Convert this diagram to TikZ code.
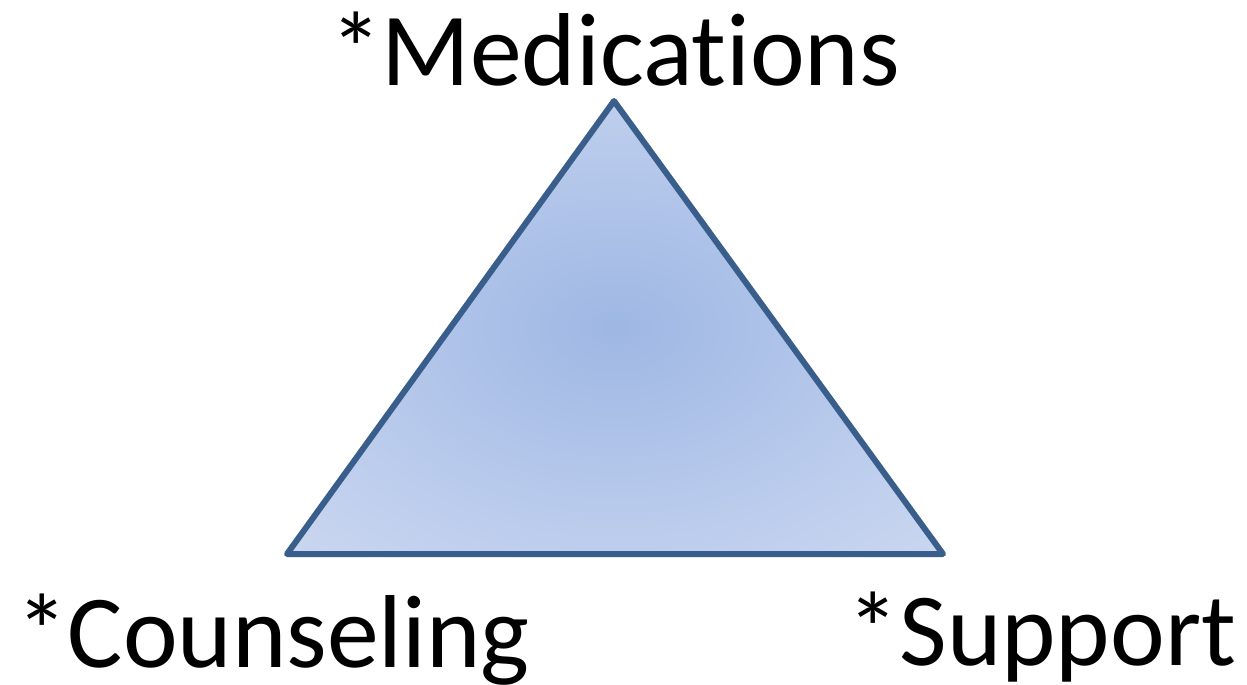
\documentclass[tikz,border=0pt]{standalone}
\usepackage{fontspec}
\setmainfont{Carlito}[Ligatures=NoCommon]
\usepackage{tikz}
\usetikzlibrary{calc}
\usetikzlibrary{positioning}
\definecolor{edgeblue}{RGB}{58,94,139}
\definecolor{midblue}{RGB}{158,183,227}
\definecolor{paleblue}{RGB}{184,202,236}
\definecolor{softblue}{RGB}{210,220,241}
\definecolor{lightblue}{RGB}{229,234,245}
\pgfdeclareradialshading{triglow}{\pgfpoint{0bp}{0bp}}{color(0bp)=(midblue); color(20bp)=(paleblue); color(42bp)=(softblue); color(66bp)=(lightblue); color(75bp)=(lightblue)}
\tikzset{label/.style={font=\fontsize{59}{64}\selectfont,inner sep=0pt,anchor=base}}

\begin{document}
\begin{tikzpicture}[x=0.02cm,y=-0.02cm]
	\useasboundingbox (0,0) rectangle (1247,685);
	
	\coordinate [] (Top) at (614,101);
	\coordinate [] (Left) at (287,554);
	\coordinate [] (Right) at (943,554);
	
	\draw[line width=0.12cm,edgeblue,line join=round,shading=triglow] (Top)--(Left)--(Right)--cycle;
	
	\node [label] (med) at (615,86) {*Medications};
	\node [label] (coun) at (273,667) {*Counseling};
	\node [label] (supp) at (1042,665) {*Support};
	
\end{tikzpicture}
\end{document}
